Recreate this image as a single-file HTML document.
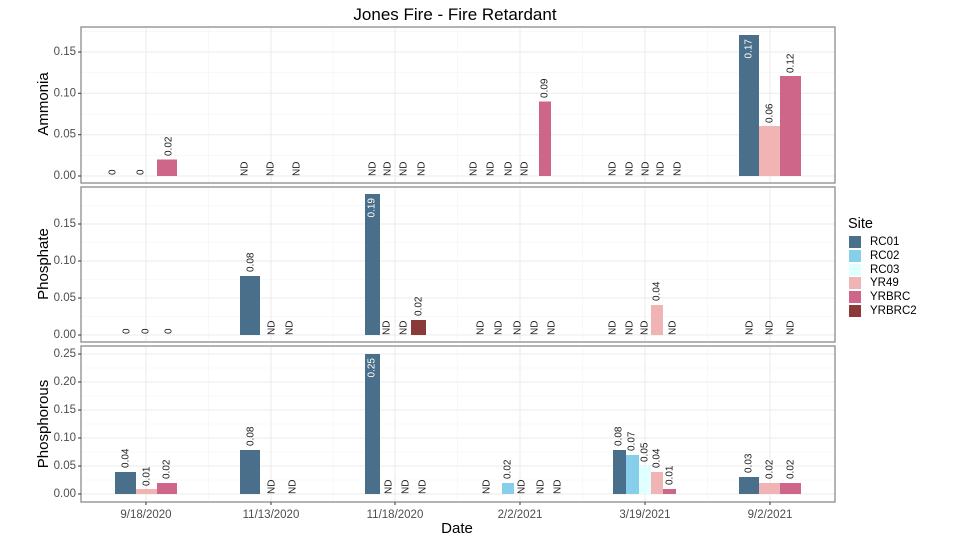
<!DOCTYPE html>
<html><head><meta charset="utf-8"><style>
body{margin:0;background:#fff;}
svg{display:block;font-family:"Liberation Sans",sans-serif;}
.g1{stroke:#ebebeb;stroke-width:1}
.g2{stroke:#f4f4f4;stroke-width:0.6}
.v{font-size:10px;fill:#1a1a1a}
.w{font-size:10px;fill:#fff}
.tk{font-size:11.5px;fill:#4d4d4d}
</style></head><body>
<svg width="960" height="540" viewBox="0 0 960 540">
<text x="455" y="20" text-anchor="middle" font-size="17" fill="#000">Jones Fire - Fire Retardant</text>

<!-- grids -->
<g>
<!-- panel1 -->
<g class="g2"><line x1="81" x2="835" y1="155.3" y2="155.3"/><line x1="81" x2="835" y1="114" y2="114"/><line x1="81" x2="835" y1="72.7" y2="72.7"/><line x1="81" x2="835" y1="31.3" y2="31.3"/></g>
<g class="g1"><line x1="81" x2="835" y1="176" y2="176"/><line x1="81" x2="835" y1="134.7" y2="134.7"/><line x1="81" x2="835" y1="93.3" y2="93.3"/><line x1="81" x2="835" y1="52" y2="52"/></g>
<!-- panel2 -->
<g class="g2"><line x1="81" x2="835" y1="316.5" y2="316.5"/><line x1="81" x2="835" y1="279.5" y2="279.5"/><line x1="81" x2="835" y1="242.5" y2="242.5"/><line x1="81" x2="835" y1="205.5" y2="205.5"/></g>
<g class="g1"><line x1="81" x2="835" y1="335" y2="335"/><line x1="81" x2="835" y1="298" y2="298"/><line x1="81" x2="835" y1="261" y2="261"/><line x1="81" x2="835" y1="224" y2="224"/></g>
<!-- panel3 -->
<g class="g2"><line x1="81" x2="835" y1="480" y2="480"/><line x1="81" x2="835" y1="452" y2="452"/><line x1="81" x2="835" y1="424" y2="424"/><line x1="81" x2="835" y1="396" y2="396"/><line x1="81" x2="835" y1="368" y2="368"/></g>
<g class="g1"><line x1="81" x2="835" y1="494" y2="494"/><line x1="81" x2="835" y1="466" y2="466"/><line x1="81" x2="835" y1="438" y2="438"/><line x1="81" x2="835" y1="410" y2="410"/><line x1="81" x2="835" y1="382" y2="382"/><line x1="81" x2="835" y1="354" y2="354"/></g>
<!-- verticals -->
<g class="g2">
<line x1="208.5" x2="208.5" y1="27" y2="183"/><line x1="333" x2="333" y1="27" y2="183"/><line x1="457.5" x2="457.5" y1="27" y2="183"/><line x1="582.5" x2="582.5" y1="27" y2="183"/><line x1="707.5" x2="707.5" y1="27" y2="183"/>
<line x1="208.5" x2="208.5" y1="187" y2="342"/><line x1="333" x2="333" y1="187" y2="342"/><line x1="457.5" x2="457.5" y1="187" y2="342"/><line x1="582.5" x2="582.5" y1="187" y2="342"/><line x1="707.5" x2="707.5" y1="187" y2="342"/>
<line x1="208.5" x2="208.5" y1="346" y2="502"/><line x1="333" x2="333" y1="346" y2="502"/><line x1="457.5" x2="457.5" y1="346" y2="502"/><line x1="582.5" x2="582.5" y1="346" y2="502"/><line x1="707.5" x2="707.5" y1="346" y2="502"/>
</g>
<g class="g1">
<line x1="146" x2="146" y1="27" y2="183"/><line x1="271" x2="271" y1="27" y2="183"/><line x1="395" x2="395" y1="27" y2="183"/><line x1="520" x2="520" y1="27" y2="183"/><line x1="645" x2="645" y1="27" y2="183"/><line x1="770" x2="770" y1="27" y2="183"/>
<line x1="146" x2="146" y1="187" y2="342"/><line x1="271" x2="271" y1="187" y2="342"/><line x1="395" x2="395" y1="187" y2="342"/><line x1="520" x2="520" y1="187" y2="342"/><line x1="645" x2="645" y1="187" y2="342"/><line x1="770" x2="770" y1="187" y2="342"/>
<line x1="146" x2="146" y1="346" y2="502"/><line x1="271" x2="271" y1="346" y2="502"/><line x1="395" x2="395" y1="346" y2="502"/><line x1="520" x2="520" y1="346" y2="502"/><line x1="645" x2="645" y1="346" y2="502"/><line x1="770" x2="770" y1="346" y2="502"/>
</g>
</g>

<!-- bars panel1 -->
<rect x="157" y="159.5" width="20" height="16.5" fill="#cd6688"/>
<rect x="539" y="101.5" width="12" height="74.5" fill="#cd6688"/>
<rect x="739" y="35" width="20" height="141" fill="#4a6f8a"/>
<rect x="759" y="126" width="21" height="50" fill="#f0b4b4"/>
<rect x="780" y="76" width="21" height="100" fill="#cd6688"/>
<!-- bars panel2 -->
<rect x="240" y="276" width="20" height="59" fill="#4a6f8a"/>
<rect x="365" y="194" width="15" height="141" fill="#4a6f8a"/>
<rect x="411" y="320" width="15" height="15" fill="#8b3a3a"/>
<rect x="651" y="305" width="12" height="30" fill="#f0b4b4"/>
<!-- bars panel3 -->
<rect x="115" y="472" width="21" height="22" fill="#4a6f8a"/>
<rect x="136" y="489" width="21" height="5" fill="#f0b4b4"/>
<rect x="157" y="483" width="20" height="11" fill="#cd6688"/>
<rect x="240" y="450" width="20" height="44" fill="#4a6f8a"/>
<rect x="365" y="354" width="15" height="140" fill="#4a6f8a"/>
<rect x="502" y="483" width="12" height="11" fill="#87ceeb"/>
<rect x="613" y="450" width="13" height="44" fill="#4a6f8a"/>
<rect x="626" y="455" width="13" height="39" fill="#87ceeb"/>
<rect x="639" y="466" width="12" height="28" fill="#e0ffff"/>
<rect x="651" y="472" width="12" height="22" fill="#f0b4b4"/>
<rect x="663" y="489" width="13" height="5" fill="#cd6688"/>
<rect x="739" y="477" width="20" height="17" fill="#4a6f8a"/>
<rect x="759" y="483" width="21" height="11" fill="#f0b4b4"/>
<rect x="780" y="483" width="21" height="11" fill="#cd6688"/>

<!-- labels panel1 -->
<g class="v" dominant-baseline="central">
<text transform="translate(113,175) rotate(-90)">0</text>
<text transform="translate(141,175) rotate(-90)">0</text>
<text transform="translate(169,156) rotate(-90)">0.02</text>
<text transform="translate(245,176) rotate(-90)">ND</text>
<text transform="translate(271,176) rotate(-90)">ND</text>
<text transform="translate(297,176) rotate(-90)">ND</text>
<text transform="translate(373,176) rotate(-90)">ND</text>
<text transform="translate(388,176) rotate(-90)">ND</text>
<text transform="translate(404,176) rotate(-90)">ND</text>
<text transform="translate(422,176) rotate(-90)">ND</text>
<text transform="translate(474,176) rotate(-90)">ND</text>
<text transform="translate(491,176) rotate(-90)">ND</text>
<text transform="translate(509,176) rotate(-90)">ND</text>
<text transform="translate(525,176) rotate(-90)">ND</text>
<text transform="translate(545,98) rotate(-90)">0.09</text>
<text transform="translate(613,176) rotate(-90)">ND</text>
<text transform="translate(630,176) rotate(-90)">ND</text>
<text transform="translate(646,176) rotate(-90)">ND</text>
<text transform="translate(661,176) rotate(-90)">ND</text>
<text transform="translate(678,176) rotate(-90)">ND</text>
<text class="w" transform="translate(749,39) rotate(-90)" text-anchor="end">0.17</text>
<text transform="translate(770,123) rotate(-90)">0.06</text>
<text transform="translate(791,73) rotate(-90)">0.12</text>

<!-- panel2 -->
<text transform="translate(127,334) rotate(-90)">0</text>
<text transform="translate(146,334) rotate(-90)">0</text>
<text transform="translate(169,334) rotate(-90)">0</text>
<text transform="translate(251,272) rotate(-90)">0.08</text>
<text transform="translate(272,335) rotate(-90)">ND</text>
<text transform="translate(290,335) rotate(-90)">ND</text>
<text class="w" transform="translate(372,198) rotate(-90)" text-anchor="end">0.19</text>
<text transform="translate(387,335) rotate(-90)">ND</text>
<text transform="translate(404,335) rotate(-90)">ND</text>
<text transform="translate(419,316) rotate(-90)">0.02</text>
<text transform="translate(481,335) rotate(-90)">ND</text>
<text transform="translate(499,335) rotate(-90)">ND</text>
<text transform="translate(518,335) rotate(-90)">ND</text>
<text transform="translate(535,335) rotate(-90)">ND</text>
<text transform="translate(552,335) rotate(-90)">ND</text>
<text transform="translate(613,335) rotate(-90)">ND</text>
<text transform="translate(630,335) rotate(-90)">ND</text>
<text transform="translate(645,335) rotate(-90)">ND</text>
<text transform="translate(657,301) rotate(-90)">0.04</text>
<text transform="translate(673,335) rotate(-90)">ND</text>
<text transform="translate(750,335) rotate(-90)">ND</text>
<text transform="translate(770,335) rotate(-90)">ND</text>
<text transform="translate(791,335) rotate(-90)">ND</text>

<!-- panel3 -->
<text transform="translate(126,468) rotate(-90)">0.04</text>
<text transform="translate(147,486) rotate(-90)">0.01</text>
<text transform="translate(167,479) rotate(-90)">0.02</text>
<text transform="translate(251,446) rotate(-90)">0.08</text>
<text transform="translate(272,494) rotate(-90)">ND</text>
<text transform="translate(293,494) rotate(-90)">ND</text>
<text class="w" transform="translate(372,358) rotate(-90)" text-anchor="end">0.25</text>
<text transform="translate(389,494) rotate(-90)">ND</text>
<text transform="translate(406,494) rotate(-90)">ND</text>
<text transform="translate(423,494) rotate(-90)">ND</text>
<text transform="translate(487,494) rotate(-90)">ND</text>
<text transform="translate(508,479) rotate(-90)">0.02</text>
<text transform="translate(522,494) rotate(-90)">ND</text>
<text transform="translate(541,494) rotate(-90)">ND</text>
<text transform="translate(558,494) rotate(-90)">ND</text>
<text transform="translate(619,446) rotate(-90)">0.08</text>
<text transform="translate(632,451) rotate(-90)">0.07</text>
<text transform="translate(645,462) rotate(-90)">0.05</text>
<text transform="translate(657,468) rotate(-90)">0.04</text>
<text transform="translate(670,485) rotate(-90)">0.01</text>
<text transform="translate(749,473) rotate(-90)">0.03</text>
<text transform="translate(770,479) rotate(-90)">0.02</text>
<text transform="translate(791,479) rotate(-90)">0.02</text>
</g>

<!-- panel borders -->
<g fill="none" stroke="#8c8c8c" stroke-width="1.3">
<rect x="81" y="27" width="754" height="156"/>
<rect x="81" y="187" width="754" height="155"/>
<rect x="81" y="346" width="754" height="156"/>
</g>

<!-- y ticks -->
<g class="tk" text-anchor="end" dominant-baseline="central">
<text x="76" y="176">0.00</text><text x="76" y="134.7">0.05</text><text x="76" y="93.3">0.10</text><text x="76" y="52">0.15</text>
<text x="76" y="335">0.00</text><text x="76" y="298">0.05</text><text x="76" y="261">0.10</text><text x="76" y="224">0.15</text>
<text x="76" y="494">0.00</text><text x="76" y="466">0.05</text><text x="76" y="438">0.10</text><text x="76" y="410">0.15</text><text x="76" y="382">0.20</text><text x="76" y="354">0.25</text>
</g>
<g stroke="#333" stroke-width="1">
<line x1="78" x2="81" y1="176" y2="176"/><line x1="78" x2="81" y1="134.7" y2="134.7"/><line x1="78" x2="81" y1="93.3" y2="93.3"/><line x1="78" x2="81" y1="52" y2="52"/>
<line x1="78" x2="81" y1="335" y2="335"/><line x1="78" x2="81" y1="298" y2="298"/><line x1="78" x2="81" y1="261" y2="261"/><line x1="78" x2="81" y1="224" y2="224"/>
<line x1="78" x2="81" y1="494" y2="494"/><line x1="78" x2="81" y1="466" y2="466"/><line x1="78" x2="81" y1="438" y2="438"/><line x1="78" x2="81" y1="410" y2="410"/><line x1="78" x2="81" y1="382" y2="382"/><line x1="78" x2="81" y1="354" y2="354"/>
<line x1="146" x2="146" y1="502" y2="505"/><line x1="271" x2="271" y1="502" y2="505"/><line x1="395" x2="395" y1="502" y2="505"/><line x1="520" x2="520" y1="502" y2="505"/><line x1="645" x2="645" y1="502" y2="505"/><line x1="770" x2="770" y1="502" y2="505"/>
</g>
<g class="tk" text-anchor="middle">
<text x="146" y="518">9/18/2020</text><text x="271" y="518">11/13/2020</text><text x="395" y="518">11/18/2020</text><text x="520" y="518">2/2/2021</text><text x="645" y="518">3/19/2021</text><text x="770" y="518">9/2/2021</text>
</g>
<text x="457" y="533" text-anchor="middle" font-size="15" fill="#000">Date</text>
<g font-size="15" fill="#000" text-anchor="middle">
<text transform="translate(48,104) rotate(-90)">Ammonia</text>
<text transform="translate(48,264) rotate(-90)">Phosphate</text>
<text transform="translate(48,424) rotate(-90)">Phosphorous</text>
</g>

<!-- legend -->
<text x="848" y="228" font-size="14.5" fill="#000">Site</text>
<rect x="849" y="236" width="12" height="12" fill="#4a6f8a"/>
<rect x="849" y="250" width="12" height="12" fill="#87ceeb"/>
<rect x="849" y="264" width="12" height="12" fill="#e0ffff"/>
<rect x="849" y="277" width="12" height="12" fill="#f0b4b4"/>
<rect x="849" y="291" width="12" height="12" fill="#cd6688"/>
<rect x="849" y="305" width="12" height="12" fill="#8b3a3a"/>
<g font-size="11.5" fill="#000" dominant-baseline="central">
<text x="870" y="242">RC01</text><text x="870" y="256">RC02</text><text x="870" y="270">RC03</text><text x="870" y="283">YR49</text><text x="870" y="297">YRBRC</text><text x="870" y="311">YRBRC2</text>
</g>
</svg>
</body></html>
